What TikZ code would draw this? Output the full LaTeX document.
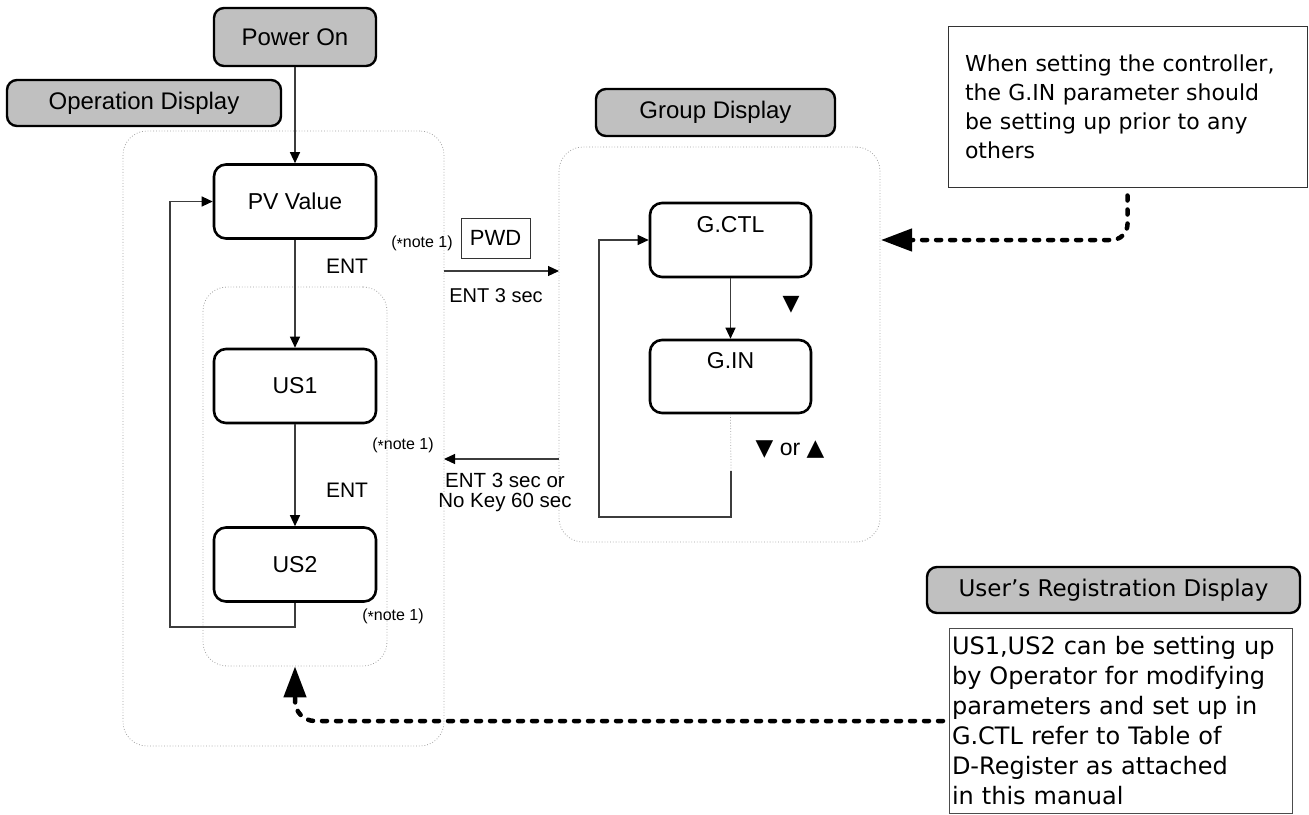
\documentclass[tikz,border=0pt]{standalone}
\usepackage{fontspec}
\setmainfont{Liberation Sans}
\newfontfamily\dvfont{DejaVu Sans}
\usetikzlibrary{arrows.meta,calc}
\newcommand\myfs[2]{\fontsize{#1}{#2}\selectfont}
\definecolor{hdrgray}{RGB}{192,192,192}
\definecolor{framegray}{RGB}{160,160,160}
\definecolor{linegray}{RGB}{60,60,60}
\begin{document}
\begin{tikzpicture}[x=1pt,y=-1pt,
  hdr/.style={draw=black, line width=2.4pt, fill=hdrgray, rounded corners=10pt, inner sep=0pt, font=\myfs{24}{28}},
  stbox/.style={draw=black, line width=2.6pt, fill=white, rounded corners=12pt, minimum width=162pt, minimum height=74pt, inner sep=0pt, font=\myfs{23}{27}},
  frame/.style={draw=framegray, line width=0.8pt, dash pattern=on 0.8pt off 2pt, rounded corners=24pt, inner sep=0pt},
  conn/.style={draw=linegray, line width=1.2pt, -{Triangle[length=11pt,width=10pt,color=black]}},
  bigarrow/.style={draw=black, line width=4.5pt, line cap=round, dash pattern=on 5pt off 9pt, -{Triangle[length=31pt,width=22pt]}},
  lbl/.style={inner sep=0pt, font=\myfs{21}{25}},
  notelbl/.style={inner sep=0pt, font=\myfs{16}{18}},
  notebox/.style={draw=black!80, line width=1pt, fill=white, align=left, inner ysep=0pt},
]
\useasboundingbox (0,0) rectangle (1309,814);

% frames
\node[frame, minimum width=321pt, minimum height=615pt] (opframe) at (283.5,438.5) {};
\node[frame, minimum width=184pt, minimum height=379pt] (innerframe) at (295,476.5) {};
\node[frame, minimum width=321pt, minimum height=395pt] (grpframe) at (719.5,344.5) {};

% headers
\node[hdr, minimum width=162pt, minimum height=58pt] (power) at (295,37) {Power On};
\node[hdr, minimum width=274pt, minimum height=46pt] (opdisp) at (144,103) {Operation Display};
\node[hdr, minimum width=239pt, minimum height=47pt] (grpdisp) at (715.5,112.5) {Group Display};
\node[hdr, minimum width=373pt, minimum height=46pt, font=\dvfont\myfs{23}{27}] (usrdisp) at (1113.5,590) {User’s Registration Display};

% operation boxes
\node[stbox] (pv) at (295,201.5) {PV Value};
\node[stbox] (us1) at (295,386) {US1};
\node[stbox] (us2) at (295,564.5) {US2};

% group boxes
\node[stbox, minimum width=161pt, text height=17pt, text depth=33pt] (gctl) at (730.5,240) {G.CTL};
\node[stbox, minimum width=161pt, minimum height=73pt, text height=17pt, text depth=34pt] (gin) at (730.5,376.5) {G.IN};

% operation connectors
\draw[conn] (power.south) -- (pv.north);
\draw[conn] (pv.south) -- (us1.north);
\draw[conn] (us1.south) -- (us2.north);
\coordinate (lp1) at (170,627);
\draw[conn] (us2.south) |- (lp1) |- (pv.west);

\node[lbl] (ent1) at (347,266) {ENT};
\node[lbl] (ent2) at (347,490) {ENT};
\node[notelbl] (nt1) at (422,243) {(\raisebox{-0.15em}{*}note 1)};
\node[notelbl] (nt2) at (403,445) {(\raisebox{-0.15em}{*}note 1)};
\node[notelbl] (nt3) at (393,616) {(\raisebox{-0.15em}{*}note 1)};

% between groups
\node[draw=black!80, line width=1pt, minimum width=69pt, minimum height=40pt, inner sep=0pt, font=\myfs{22}{26}] (pwd) at (495.5,238) {PWD};
\coordinate (r1) at (444,271);
\coordinate (r2) at (559,271);
\draw[conn] (r1) -- (r2);
\node[lbl, font=\myfs{20}{24}] (ent3) at (496,296) {ENT 3 sec};
\coordinate (l1) at (559,459);
\coordinate (l2) at (444,459);
\draw[conn] (l1) -- (l2);
\node[lbl, font=\myfs{20.5}{20}, align=center] (ent4) at (505,492) {ENT 3 sec or\\No Key 60 sec};

% group connectors
\draw[conn] (gctl.south) -- (gin.north);
\node[inner sep=0pt, font=\dvfont\myfs{22}{26}] (dn1) at (791,305) {▼};
\node[inner sep=0pt, font=\myfs{23}{26}] (dnup) at (790,450) {{\dvfont ▼}~or~{\dvfont ▲}};
\coordinate (gl1) at (731,471);
\coordinate (gl2) at (599,517);
\draw[draw=framegray, line width=0.8pt, dash pattern=on 0.8pt off 2pt] (gin.south) -- (gl1);
\draw[conn] (gl1) |- (gl2) |- (gctl.west);

% notes
\node[notebox, minimum width=359pt, minimum height=161pt, text width=325pt, inner xsep=17pt, font=\dvfont\myfs{22}{29}] (note1) at (1127.5,106.5)
 {When setting the controller,\\the G.IN parameter should\\be setting up prior to any\\others};
\node[notebox, draw=black!70, minimum width=343pt, minimum height=185pt, text width=337pt, inner xsep=3pt, font=\dvfont\myfs{24}{30}] (note2) at (1120.5,720.5)
 {US1,US2 can be setting up\\by Operator for modifying\\parameters and set up in\\G.CTL refer to Table of\\D-Register as attached\\in this manual};

% dashed big arrows
\coordinate (n1tip) at (881,240);
\draw[bigarrow, rounded corners=16pt] ([yshift=-8pt]note1.south) |- (n1tip);
\coordinate (b0) at (943,721);
\coordinate (bc) at (295,721);
\draw[bigarrow, rounded corners=20pt] (b0) -- (bc) -- (innerframe.south);
\end{tikzpicture}
\end{document}
